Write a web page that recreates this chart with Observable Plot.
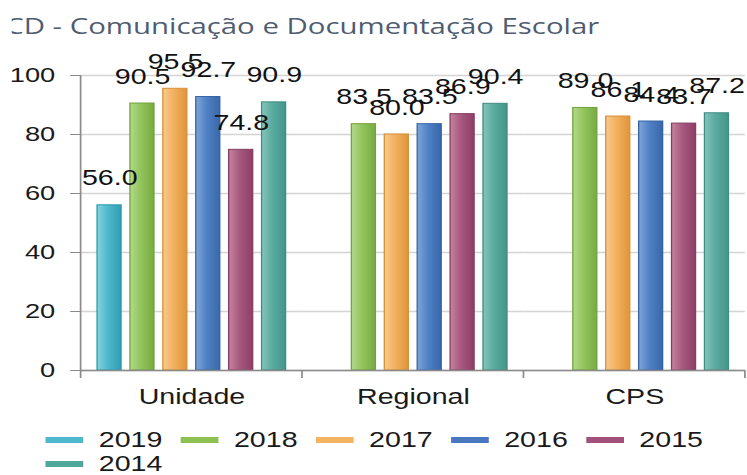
<!DOCTYPE html>
<html>
<head>
<meta charset="utf-8">
<script src="https://cdn.jsdelivr.net/npm/d3@7"></script>
<script src="https://cdn.jsdelivr.net/npm/@observablehq/plot@0.6"></script>
<style>
  html, body { margin: 0; padding: 0; background: #fff; overflow: hidden; }
  #wrap { width: 575px; transform: scaleX(1.3); transform-origin: 0 0; position: relative; }
  #title { height: 40px; position: relative; }
  #titleclip { position: absolute; left: 9px; top: 0; right: 0; height: 40px; overflow: hidden; }
  #titletext { position: absolute; left: -5px; top: 12px; font-family: "Open Sans", sans-serif; font-size: 21px; line-height: 28px;
               color: #4f5c70; white-space: nowrap; transform: scaleX(1.075); transform-origin: 0 0; }
  #legend { display: flex; flex-wrap: wrap; width: 575px; box-sizing: border-box; padding-left: 35px; margin-top: 3px;
            font-family: "Liberation Sans", Arial, sans-serif; font-size: 22px; line-height: 24px; color: #1a1a1a; }
  .item { display: flex; align-items: center; margin-right: 14px; }
  .sw { width: 29px; height: 6px; margin-right: 12px; }
</style>
</head>
<body>
<div id="wrap">
  <div id="title"><div id="titleclip"><span id="titletext">CD - Comunicação e Documentação Escolar</span></div></div>
  <div id="chart"></div>
  <div id="legend"></div>
</div>
<script>
const groups = ["Unidade", "Regional", "CPS"];
const years = ["2019", "2018", "2017", "2016", "2015", "2014"];
const unidade = [56.0, 90.5, 95.5, 92.7, 74.8, 90.9];
const regional = [null, 83.5, 80.0, 83.5, 86.9, 90.4];
const cps = [null, 89.0, 86.1, 84.4, 83.7, 87.2];
const yTicks = [0, 20, 40, 60, 80, 100];

const baseColors = ["#4db8cc", "#92c45c", "#f2b05e", "#4f81c4", "#a8587e", "#5aaa9f"];
const lightColors = ["#86d3df", "#b4d98c", "#f8ca8e", "#80a6d8", "#c5849f", "#86c5bb"];
const darkColors = ["#2f9fb3", "#76ab42", "#df953b", "#3967ab", "#8c3f67", "#43958a"];
const strokeColors = ["#2c9aae", "#71a33e", "#d68f39", "#3563a6", "#873c63", "#3e8d82"];
const legendColors = ["#4fb8cf", "#8cc152", "#f4b461", "#4a78c0", "#a3507c", "#4fa79b"];

const series = [unidade, regional, cps];
const data = groups.flatMap((g, gi) =>
  series[gi].map((v, i) => ({group: g, year: years[i], value: v})).filter(d => d.value != null)
);

const W = 575, H = 385;
const font = "'Liberation Sans', Arial, sans-serif";

const plot = Plot.plot({
  width: W,
  height: H,
  marginLeft: 62,
  marginRight: 2,
  marginTop: 35,
  marginBottom: 55,
  style: {fontFamily: font, fontSize: "21px", color: "#1a1a1a", background: "transparent", overflow: "visible"},
  fx: {domain: groups, padding: 0, round: false},
  x: {domain: years, paddingInner: 0.27, paddingOuter: 0.5, round: false, axis: null},
  y: {domain: [0, 100], axis: null},
  marks: [
    Plot.gridY(yTicks, {stroke: "#d4d4d4", strokeOpacity: 1, strokeWidth: 1.3}),
    Plot.axisY(yTicks, {tickSize: 8, tickPadding: 12, stroke: "#8a8a8a", fontSize: 21, fill: "#1a1a1a", label: null, tickFormat: d => String(d)}),
    ...years.map((yr, i) => Plot.barY(data.filter(d => d.year === yr), {
      fx: "group", x: "year", y: "value",
      fill: `url(#grad-${yr})`, stroke: strokeColors[i], strokeWidth: 1
    })),
    Plot.ruleY([0], {stroke: "#8a8a8a", strokeWidth: 1.3}),
    Plot.text(data, {fx: "group", x: "year", y: "value", text: d => d.value.toFixed(1), dy: -27, fontSize: 22, fill: "#111"}),
    Plot.axisFx({anchor: "bottom", tickSize: 0, tickPadding: 18, fontSize: 22, fill: "#1a1a1a", label: null})
  ]
});

const svg = d3.select(plot);
const defs = svg.insert("defs", ":first-child");
years.forEach((yr, i) => {
  const g = defs.append("linearGradient").attr("id", `grad-${yr}`).attr("x1", 0).attr("x2", 1).attr("y1", 0).attr("y2", 0);
  g.append("stop").attr("offset", "0%").attr("stop-color", lightColors[i]);
  g.append("stop").attr("offset", "45%").attr("stop-color", baseColors[i]);
  g.append("stop").attr("offset", "100%").attr("stop-color", darkColors[i]);
});

// axis line and group separator ticks from the library scales
const fx = plot.scale("fx");
const ys = plot.scale("y");
let fxApply = fx.apply, bw = fx.bandwidth;
if (!fxApply || bw == null) {
  const b = d3.scaleBand().domain(fx.domain).range(fx.range).padding(0);
  fxApply = b; bw = b.bandwidth();
}
const y0 = ys.apply ? ys.apply(0) : d3.scaleLinear().domain(ys.domain).range(ys.range)(0);
const y100 = ys.apply ? ys.apply(100) : d3.scaleLinear().domain(ys.domain).range(ys.range)(100);
const xLeft = fxApply(groups[0]);
const extra = svg.append("g").attr("stroke", "#8a8a8a").attr("stroke-width", 1.3);
extra.append("line").attr("x1", xLeft).attr("x2", xLeft).attr("y1", y100).attr("y2", y0 + 8);
groups.forEach((g, i) => {
  const x = fxApply(g) + bw;
  extra.append("line").attr("x1", x).attr("x2", x).attr("y1", y0).attr("y2", y0 + 8);
});

document.getElementById("chart").appendChild(plot);

const legend = d3.select("#legend");
years.forEach((yr, i) => {
  const it = legend.append("div").attr("class", "item");
  it.append("div").attr("class", "sw").style("background", legendColors[i]);
  it.append("span").text(yr);
});
</script>
</body>
</html>
